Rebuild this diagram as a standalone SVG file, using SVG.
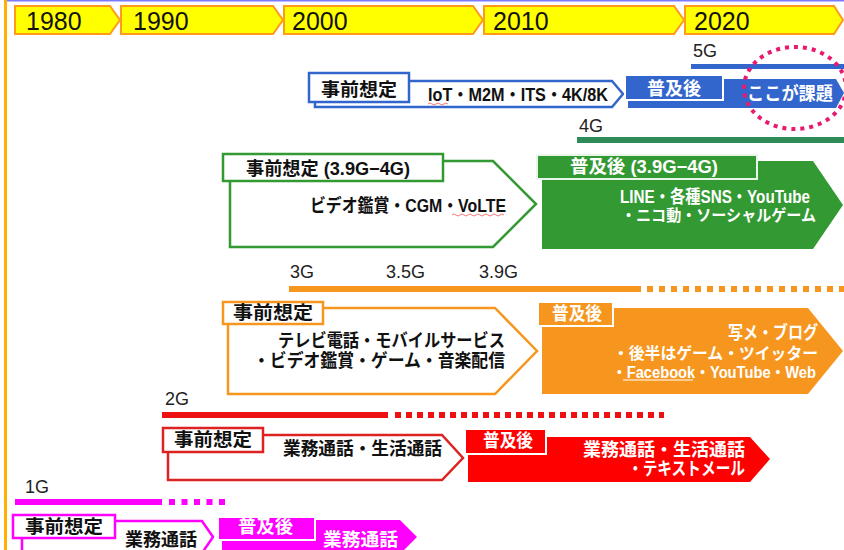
<svg xmlns="http://www.w3.org/2000/svg" width="844" height="550" viewBox="0 0 844 550">
<style>
.yr{font-family:"Liberation Sans",Arial,sans-serif;font-size:25px;fill:#111}
.gen{font-family:"Liberation Sans",Arial,sans-serif;font-size:18px;fill:#222}
.jp{font-family:"Liberation Sans","Noto Sans CJK JP",sans-serif;font-weight:bold;font-size:18px;fill:#111}
.s16{font-size:16px}
.w{fill:#fff}
.tl{fill:#ffff00;stroke:#ff9a1a;stroke-width:2}
.box{fill:#fff;stroke-width:2.5}
.out{fill:#fff;stroke-width:2.5}
</style>
<rect width="844" height="550" fill="#fff"/>
<line x1="5" y1="0.8" x2="844" y2="0.8" stroke="#7a7aff" stroke-width="1.6"/>
<line x1="5.5" y1="0" x2="5.5" y2="550" stroke="#ffb000" stroke-width="3"/>

<g id="timeline">
<polygon class="tl" points="15,6 110,6 120,20 110,34 15,34"/>
<polygon class="tl" points="121,6 273,6 283,20 273,34 121,34"/>
<polygon class="tl" points="284,6 473,6 483,20 473,34 284,34"/>
<polygon class="tl" points="484,6 674,6 684,20 674,34 484,34"/>
<polygon class="tl" points="685,6 834,6 843,20 834,34 685,34"/>
<text class="yr" x="26" y="30">1980</text>
<text class="yr" x="133" y="30">1990</text>
<text class="yr" x="292" y="30">2000</text>
<text class="yr" x="493" y="30">2010</text>
<text class="yr" x="694" y="30">2020</text>
</g>

<g id="lines">
<text class="gen" x="693" y="57">5G</text>
<rect x="691" y="64" width="153" height="5" fill="#3366cc"/>
<text class="gen" x="579" y="132">4G</text>
<rect x="577" y="137" width="267" height="6" fill="#2e8b57"/>
<text class="gen" x="290" y="278">3G</text>
<text class="gen" x="386" y="278">3.5G</text>
<text class="gen" x="479" y="278">3.9G</text>
<rect x="289" y="286" width="352" height="6" fill="#f7961e"/>
<line x1="647" y1="289" x2="844" y2="289" stroke="#f7961e" stroke-width="6" stroke-dasharray="6 6"/>
<text class="gen" x="165" y="405">2G</text>
<rect x="162" y="412" width="226" height="6" fill="#ee1111"/>
<line x1="395" y1="415" x2="664" y2="415" stroke="#ee1111" stroke-width="6" stroke-dasharray="6 5"/>
<text class="gen" x="25" y="493">1G</text>
<rect x="15" y="499" width="147" height="6" fill="#ff00ff"/>
<line x1="169" y1="502" x2="228" y2="502" stroke="#ff00ff" stroke-width="6" stroke-dasharray="6 6.5"/>
</g>

<g id="g5-pre">
<polygon class="out" stroke="#3366cc" points="315,81 612,81 623,94 612,107 315,107"/>
<rect class="box" stroke="#3366cc" x="309" y="73" width="100" height="29"/>
<text class="jp" x="321" y="96" textLength="76" lengthAdjust="spacingAndGlyphs">事前想定</text>
<text class="jp" x="428" y="101" textLength="180" lengthAdjust="spacingAndGlyphs">IoT・M2M・ITS・4K/8K</text>
<path d="M428,104 q2,-2 4,0 t4,0 t4,0 t4,0 t4,0" fill="none" stroke="#e55" stroke-width="0.8"/>
</g>

<g id="g5-post">
<polygon fill="#3366cc" points="628,79 836,79 844,93 836,108 628,108"/>
<rect x="625" y="75" width="98" height="25" fill="#3366cc" stroke="#fff" stroke-width="2"/>
<text class="jp w" x="647" y="95" textLength="54" lengthAdjust="spacingAndGlyphs">普及後</text>
<text class="jp w" x="747" y="100" textLength="86" lengthAdjust="spacingAndGlyphs">ここが課題</text>
<ellipse cx="795" cy="88" rx="51" ry="41" fill="none" stroke="#e8196e" stroke-width="4" stroke-dasharray="4 5"/>
</g>

<g id="g4-pre">
<polygon class="out" stroke="#339933" points="230,161 493,161 536,204 493,247 230,247"/>
<rect class="box" stroke="#339933" x="223" y="154" width="220" height="27"/>
<text class="jp" x="246" y="175" textLength="164" lengthAdjust="spacingAndGlyphs">事前想定 (3.9G−4G)</text>
<text class="jp" x="310" y="212" textLength="196" lengthAdjust="spacingAndGlyphs">ビデオ鑑賞・CGM・VoLTE</text>
<path d="M452,215 q2,-2 4,0 t4,0 t4,0 t4,0 t4,0 t4,0 t4,0 t4,0 t4,0 t4,0 t4,0 t4,0 t4,0" fill="none" stroke="#e55" stroke-width="0.8"/>
</g>

<g id="g4-post">
<polygon fill="#339933" points="542,161 813,161 843,205 813,249 542,249"/>
<rect x="537" y="155" width="220" height="24" fill="#339933" stroke="#e8f5e8" stroke-width="2"/>
<text class="jp w" x="570" y="173" textLength="148" lengthAdjust="spacingAndGlyphs">普及後 (3.9G−4G)</text>
<text class="jp w" x="620" y="203" textLength="190" lengthAdjust="spacingAndGlyphs">LINE・各種SNS・YouTube</text>
<text class="jp w s16" x="621" y="221" textLength="195" lengthAdjust="spacingAndGlyphs">・ニコ動・ソーシャルゲーム</text>
</g>

<g id="g3-pre">
<polygon class="out" stroke="#f7961e" points="228,308 495,308 537,351 495,394 228,394"/>
<rect class="box" stroke="#f7961e" x="223" y="302" width="100" height="22"/>
<text class="jp" x="233" y="319" textLength="80" lengthAdjust="spacingAndGlyphs">事前想定</text>
<text class="jp" x="278" y="347" textLength="227" lengthAdjust="spacingAndGlyphs">テレビ電話・モバイルサービス</text>
<text class="jp" x="253" y="367" textLength="252" lengthAdjust="spacingAndGlyphs">・ビデオ鑑賞・ゲーム・音楽配信</text>
</g>

<g id="g3-post">
<polygon fill="#f7961e" points="542,308 808,308 843,351 808,394 542,394"/>
<rect x="538" y="302" width="75" height="24" fill="#f7961e" stroke="#fff" stroke-width="2"/>
<text class="jp w" x="552" y="320" textLength="50" lengthAdjust="spacingAndGlyphs">普及後</text>
<text class="jp w" x="728" y="339" textLength="90" lengthAdjust="spacingAndGlyphs">写メ・ブログ</text>
<text class="jp w s16" x="613" y="359" textLength="205" lengthAdjust="spacingAndGlyphs">・後半はゲーム・ツイッター</text>
<text class="jp w s16" x="612" y="378" textLength="204" lengthAdjust="spacingAndGlyphs">・Facebook・YouTube・Web</text>
<line x1="623" y1="380" x2="693" y2="380" stroke="#fff" stroke-width="1"/>
</g>

<g id="g2-pre">
<polygon class="out" stroke="#dd2222" points="168,435 442,435 463,458 442,480 168,480"/>
<rect class="box" stroke="#dd2222" x="163" y="428" width="100" height="24"/>
<text class="jp" x="174" y="446" textLength="78" lengthAdjust="spacingAndGlyphs">事前想定</text>
<text class="jp" x="283" y="455" textLength="159" lengthAdjust="spacingAndGlyphs">業務通話・生活通話</text>
</g>

<g id="g2-post">
<polygon fill="#ff0000" points="468,437 750,437 770,459 750,482 468,482"/>
<rect x="465" y="429" width="81" height="25" fill="#ff0000" stroke="#fff" stroke-width="2"/>
<text class="jp w" x="483" y="447" textLength="50" lengthAdjust="spacingAndGlyphs">普及後</text>
<text class="jp w" x="583" y="456" textLength="162" lengthAdjust="spacingAndGlyphs">業務通話・生活通話</text>
<text class="jp w" x="628" y="475" textLength="117" lengthAdjust="spacingAndGlyphs">・テキストメール</text>
</g>

<g id="g1-pre">
<polygon class="out" stroke="#ff00ff" points="22,521 202,521 213,537 202,553 22,553"/>
<rect class="box" stroke="#ff00ff" x="13" y="515" width="102" height="23"/>
<text class="jp" x="25" y="533" textLength="78" lengthAdjust="spacingAndGlyphs">事前想定</text>
<text class="jp" x="125" y="546" textLength="72" lengthAdjust="spacingAndGlyphs">業務通話</text>
</g>

<g id="g1-post">
<polygon fill="#ff00ff" points="222,520 400,520 417,537 400,554 222,554"/>
<rect x="218" y="517" width="97" height="23" fill="#ff00ff" stroke="#fff" stroke-width="2"/>
<text class="jp w" x="238" y="533" textLength="55" lengthAdjust="spacingAndGlyphs">普及後</text>
<text class="jp w" x="323" y="546" textLength="75" lengthAdjust="spacingAndGlyphs">業務通話</text>
</g>
</svg>
